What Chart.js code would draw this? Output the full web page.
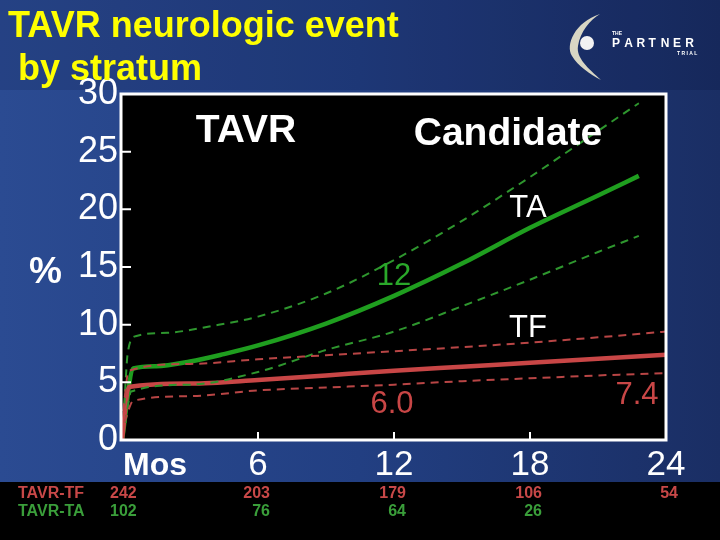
<!DOCTYPE html>
<html>
<head>
<meta charset="utf-8">
<script src="https://cdn.jsdelivr.net/npm/chart.js@4.4.1/dist/chart.umd.min.js"></script>
<style>
  html, body { margin: 0; padding: 0; background: #1c3170; }
  #wrap { width: 720px; height: 540px; }
</style>
</head>
<body>
<div id="wrap"><canvas id="tavr-neuro"></canvas></div>
<script>
// TAVR-TF (transfemoral)
const tfMonths = [0, 0.3, 3, 6, 9, 12, 15, 18, 21, 24];
const tfRate = [0, 4.6, 4.9, 5.2, 5.6, 6.0, 6.35, 6.7, 7.05, 7.4];
const tfUpperMonths = [0.05, 0.3, 3, 6, 9, 12, 15, 18, 21, 24];
const tfUpper = [2.5, 6.0, 6.6, 7.0, 7.35, 7.7, 8.05, 8.45, 8.9, 9.4];
const tfLowerMonths = [0.1, 0.5, 3, 6, 9, 12, 15, 18, 21, 24];
const tfLower = [1.5, 3.4, 3.8, 4.3, 4.55, 4.8, 5.1, 5.35, 5.6, 5.8];

// TAVR-TA (transapical)
const taMonths = [0, 0.5, 1.5, 3, 4.5, 6, 9, 12, 15, 18, 21, 22.8];
const taRate = [0, 6.2, 6.4, 6.8, 7.45, 8.2, 10.1, 12.5, 15.3, 18.4, 21.2, 22.9];
const taUpperMonths = [0.1, 0.25, 0.6, 2, 4, 6, 9, 12, 15, 18, 21, 22.8];
const taUpper = [3.0, 7.5, 9.0, 9.3, 9.9, 10.7, 12.7, 15.6, 19.0, 22.8, 26.8, 29.2];
const taLowerMonths = [0.15, 0.4, 3, 6, 9, 12, 15, 18, 21, 22.8];
const taLower = [1.5, 4.2, 4.8, 5.9, 7.8, 9.4, 11.6, 13.9, 16.3, 17.7];

// numbers at risk
const riskMonths = [0, 6, 12, 18, 24];
const tfAtRisk = [242, 203, 179, 106, 54];
const taAtRisk = [102, 76, 64, 26];

const xTicks = [0, 6, 12, 18, 24];
const yTicks = [0, 5, 10, 15, 20, 25, 30];

const GREEN = '#1f9e1f';
const GREEN_DASH = '#2e962e';
const RED = '#c84646';
const RED_DASH = '#b84545';
const FONT = "'Liberation Sans', Arial, sans-serif";

function pts(xs, ys) {
  return xs.map(function(x, i) { return { x: x, y: ys[i] }; });
}

function line(label, xs, ys, color, width, dash) {
  return {
    label: label,
    data: pts(xs, ys),
    borderColor: color,
    borderWidth: width,
    borderDash: dash || [],
    pointRadius: 0,
    fill: false,
    cubicInterpolationMode: 'monotone'
  };
}

const data = {
  datasets: [
    line('TF lower', tfLowerMonths, tfLower, RED_DASH, 2, [8, 6]),
    line('TF upper', tfUpperMonths, tfUpper, RED_DASH, 2, [8, 6]),
    line('TA lower', taLowerMonths, taLower, GREEN_DASH, 2, [8, 6]),
    line('TA upper', taUpperMonths, taUpper, GREEN_DASH, 2, [8, 6]),
    line('TAVR-TF', tfMonths, tfRate, RED, 4.5),
    line('TAVR-TA', taMonths, taRate, GREEN, 4.5)
  ]
};

// slide background, black plot panel, frame, inside ticks and texts
const slide = {
  id: 'slide',
  beforeDraw: function(chart) {
    const ctx = chart.ctx, a = chart.chartArea;
    ctx.save();
    const g = ctx.createLinearGradient(0, 0, 720, 0);
    g.addColorStop(0, '#2b4b92');
    g.addColorStop(0.5, '#223f82');
    g.addColorStop(1, '#1a2e64');
    ctx.fillStyle = g;
    ctx.fillRect(0, 0, 720, 540);
    ctx.fillStyle = 'rgba(0,0,30,0.12)';
    ctx.fillRect(0, 0, 720, 90);
    ctx.fillStyle = '#000';
    ctx.fillRect(0, 482, 720, 58);
    ctx.fillRect(a.left, a.top, a.right - a.left, a.bottom - a.top);
    ctx.restore();
  },
  afterDatasetsDraw: function(chart) {
    const ctx = chart.ctx, a = chart.chartArea;
    const xs = chart.scales.x, ys = chart.scales.y;
    ctx.save();
    ctx.strokeStyle = '#fff';
    ctx.lineWidth = 3;
    ctx.strokeRect(a.left - 1, a.top, a.right - a.left + 1, a.bottom - a.top);
    ctx.lineWidth = 2;
    ctx.beginPath();
    yTicks.slice(1, -1).forEach(function(v) {
      const y = ys.getPixelForValue(v);
      ctx.moveTo(a.left, y); ctx.lineTo(a.left + 9, y);
    });
    xTicks.slice(1, -1).forEach(function(v) {
      const x = xs.getPixelForValue(v);
      ctx.moveTo(x, a.bottom); ctx.lineTo(x, a.bottom - 8);
    });
    ctx.stroke();

    ctx.textBaseline = 'alphabetic';
    // panel labels
    ctx.fillStyle = '#fff';
    ctx.textAlign = 'center';
    ctx.font = 'bold 39px ' + FONT;
    ctx.fillText('TAVR', 246, 142);
    ctx.fillText('Candidate', 508, 145);
    ctx.font = '31px ' + FONT;
    ctx.fillText('TA', 528, 217);
    ctx.fillText('TF', 528, 337);
    ctx.fillStyle = '#2aa82a';
    ctx.fillText('12', 394, 285);
    ctx.fillStyle = RED;
    ctx.fillText('6.0', 392, 413);
    ctx.fillText('7.4', 637, 404);

    // axis words
    ctx.fillStyle = '#fff';
    ctx.textAlign = 'left';
    ctx.font = 'bold 37px ' + FONT;
    ctx.fillText('%', 29, 283);
    ctx.font = 'bold 32px ' + FONT;
    ctx.fillText('Mos', 123, 475);

    // title
    ctx.fillStyle = '#ffff00';
    ctx.font = 'bold 36px ' + FONT;
    ctx.fillText('TAVR neurologic event', 8, 37);
    ctx.fillText('by stratum', 18, 80);

    // logo
    ctx.fillStyle = '#d8d6c4';
    ctx.beginPath();
    ctx.moveTo(600, 14);
    ctx.bezierCurveTo(575, 22, 565, 45, 572, 56);
    ctx.bezierCurveTo(578, 66, 590, 74, 601, 80);
    ctx.bezierCurveTo(588, 68, 576, 58, 578, 46);
    ctx.bezierCurveTo(580, 32, 590, 20, 600, 14);
    ctx.fill();
    ctx.fillStyle = '#f2f2f2';
    ctx.beginPath();
    ctx.arc(587, 43, 7, 0, Math.PI * 2);
    ctx.fill();
    ctx.fillStyle = '#fff';
    ctx.font = 'bold 5px ' + FONT;
    ctx.fillText('THE', 612, 35);
    ctx.font = 'bold 12px ' + FONT;
    const word = 'PARTNER';
    for (let i = 0; i < word.length; i++) {
      ctx.fillText(word[i], 612 + i * 12.2, 47);
    }
    ctx.font = 'bold 5px ' + FONT;
    ctx.fillText('T R I A L', 677, 55);

    // numbers at risk
    ctx.font = "bold 16px 'Liberation Sans Narrow', 'Liberation Sans', Arial, sans-serif";
    ctx.fillStyle = '#c84848';
    ctx.fillText('TAVR-TF', 18, 498);
    ctx.fillStyle = '#3a9e3a';
    ctx.fillText('TAVR-TA', 18, 516);
    function row(vals, color, y) {
      ctx.fillStyle = color;
      vals.forEach(function(v, i) {
        if (riskMonths[i] === 0) {
          ctx.textAlign = 'left';
          ctx.fillText(String(v), 110, y);
        } else {
          ctx.textAlign = 'right';
          ctx.fillText(String(v), xs.getPixelForValue(riskMonths[i]) + 12, y);
        }
      });
    }
    row(tfAtRisk, '#c84848', 498);
    row(taAtRisk, '#3a9e3a', 516);
    ctx.restore();
  }
};

const config = {
  type: 'line',
  data: data,
  options: {
    responsive: true,
    maintainAspectRatio: false,
    animation: false,
    events: [],
    layout: { padding: { top: 94, right: 54, left: 0, bottom: 0 } },
    plugins: {
      legend: { display: false },
      tooltip: { enabled: false }
    },
    scales: {
      x: {
        type: 'linear',
        min: 0,
        max: 24,
        afterFit: function(s) { s.height = 100; },
        afterBuildTicks: function(s) { s.ticks = xTicks.map(function(v) { return { value: v }; }); },
        grid: { display: false, drawTicks: false },
        border: { display: false },
        ticks: {
          color: '#fff',
          padding: 4,
          maxRotation: 0,
          font: { family: FONT, size: 35 },
          callback: function(v) { return v === 0 ? '' : v; }
        }
      },
      y: {
        type: 'linear',
        min: 0,
        max: 30,
        afterFit: function(s) { s.width = 122; },
        afterBuildTicks: function(s) { s.ticks = yTicks.map(function(v) { return { value: v }; }); },
        grid: { display: false, drawTicks: false },
        border: { display: false },
        ticks: {
          color: '#fff',
          padding: 4,
          font: { family: FONT, size: 36 }
        }
      }
    }
  },
  plugins: [slide]
};

new Chart(document.getElementById('tavr-neuro'), config);
</script>
</body>
</html>
